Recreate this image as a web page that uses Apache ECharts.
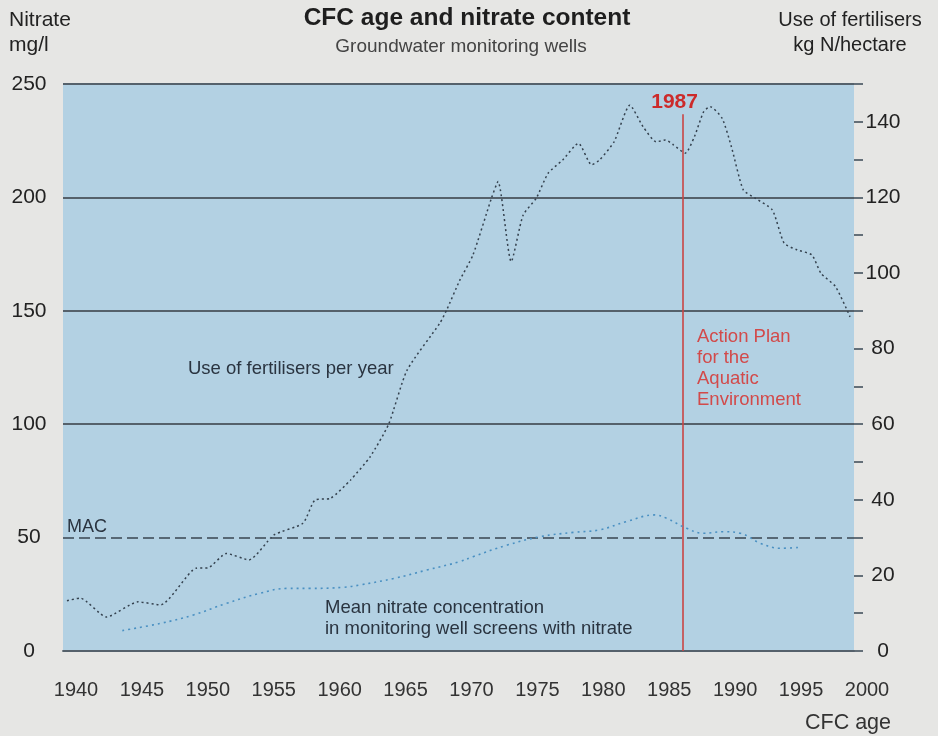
<!DOCTYPE html>
<html><head><meta charset="utf-8">
<script src="https://cdn.jsdelivr.net/npm/echarts@6/dist/echarts.min.js"></script>
<style>html,body{margin:0;padding:0;background:#e6e6e4;}#c{width:938px;height:736px;}</style>
</head><body><div id="c"></div>
<script>
// ---- data ----
const fertYears  = [1940.3,1941.3,1943.3,1945.7,1947.4,1950.1,1951.0,1952.4,1954.1,1956.0,1958.2,1959.1,1960.3,1961.8,1963.3,1964.7,1966.1,1968.6,1969.1,1970.1,1971.1,1972.5,1973.0,1974.0,1974.9,1975.9,1976.8,1977.9,1979.1,1980.1,1980.7,1981.8,1983.0,1984.0,1985.0,1985.7,1986.3,1987.2,1987.9,1988.6,1989.1,1990.0,1990.7,1991.6,1992.5,1993.8,1994.7,1995.7,1996.8,1997.5,1998.6,1999.7];
const fertValues = [13.3,14.0,9.0,13.0,12.2,21.9,22.0,25.8,24.1,30.7,33.8,39.9,40.4,45.2,51.4,60.0,74.3,86.8,90.2,98.1,104.8,119.8,124.2,103.0,115.3,119.8,126.4,129.9,134.3,128.6,129.9,134.7,144.4,138.7,134.7,135.2,133.9,131.7,136.1,142.7,144.0,140.9,133.4,122.0,119.8,116.7,107.9,106.1,104.8,99.9,96.4,88.4];
const nitrateYears  = [1944.5,1947.4,1949.9,1952.4,1954.9,1957.0,1958.7,1961.3,1962.5,1965.1,1967.6,1970.1,1971.1,1973.7,1976.2,1978.7,1980.7,1982.7,1984.9,1985.8,1987.3,1988.6,1990.1,1991.4,1992.9,1994.4,1995.9];
const nitrateValues = [9.0,12.2,15.9,21.0,25.4,27.6,27.6,28.1,29.1,32.0,35.7,39.4,41.6,46.7,50.4,52.3,53.4,57.0,60.0,58.5,54.1,51.9,52.6,51.9,47.5,45.3,45.7];
const gridLevels = [100,150,200,250];   // mg/l solid lines
const macLevel = 50;                     // MAC, mg/l
const actionYear = 1987;
const actionTop = 142;                   // kg N/ha, top of the red line
const yearMin = 1940, yearMax = 2000, yearStep = 5;
const nitrateMax = 250, nitrateStep = 50;
const fertMax = 150, fertStep = 10, fertLabelStep = 20;

const FONT = 'Liberation Sans, Arial, sans-serif';
const G = '#55616b';
const zip = (xs, ys) => xs.map((x, i) => [x, ys[i]]);

const chart = echarts.init(document.getElementById('c'), null, {renderer: 'canvas'});
chart.setOption({
  animation: false,
  backgroundColor: '#e6e6e4',
  textStyle: {fontFamily: FONT},
  grid: {left: 63, right: 84, top: 84, bottom: 85, show: true, backgroundColor: '#b3d1e3', borderWidth: 0},
  xAxis: {
    type: 'value', min: yearMin, max: yearMax, interval: yearStep,
    axisLine: {show: true, lineStyle: {color: G, width: 1.8}},
    axisTick: {show: false}, splitLine: {show: false},
    axisLabel: {fontSize: 20, color: '#333', margin: 29, padding: [0, 0, 0, 26], showMinLabel: true, showMaxLabel: true,
      formatter: v => String(v)}
  },
  yAxis: [
    {type: 'value', min: 0, max: nitrateMax, interval: nitrateStep, position: 'left',
     axisLine: {show: false}, axisTick: {show: false}, splitLine: {show: false},
     axisLabel: {fontSize: 21, color: '#222', align: 'center', margin: 34, padding: [0, 0, 8, 0]}},
    {type: 'value', min: 0, max: fertMax, interval: fertStep, position: 'right',
     axisLine: {show: false}, splitLine: {show: false},
     axisTick: {show: true, inside: false, length: 9, lineStyle: {color: G, width: 1.8}},
     axisLabel: {fontSize: 21, color: '#222', align: 'center', margin: 29, padding: [0, 0, 9, 0],
       formatter: v => (v % fertLabelStep === 0 ? String(v) : '')}}
  ],
  series: [
    {
      name: 'Mean nitrate concentration', type: 'line', yAxisIndex: 0,
      data: zip(nitrateYears, nitrateValues), smooth: 0.4, symbol: 'none', z: 3,
      lineStyle: {color: '#4a90c2', width: 1.6, type: [2, 4]},
      markLine: {
        silent: true, symbol: ['none', 'none'], label: {show: false}, z: 1,
        lineStyle: {color: G, width: 1.8, type: 'solid'},
        data: gridLevels.map(v => ({yAxis: v})).concat([
          {yAxis: macLevel, lineStyle: {color: '#3a4652', width: 1.6, type: [11, 5]}}
        ])
      }
    },
    {
      name: 'Use of fertilisers per year', type: 'line', yAxisIndex: 1,
      data: zip(fertYears, fertValues), smooth: 0.2, symbol: 'none', z: 4,
      lineStyle: {color: '#34414e', width: 1.5, type: [2, 3]},
      markLine: {
        silent: true, symbol: ['none', 'none'], z: 2,
        lineStyle: {color: '#c94545', width: 1.6, type: 'solid'},
        label: {show: true, position: 'end', formatter: String(actionYear), color: '#cc2b2b',
          fontWeight: 'bold', fontSize: 21, distance: 2, padding: [0, 16, 0, 0]},
        data: [[{coord: [actionYear, 0]}, {coord: [actionYear, actionTop]}]]
      }
    }
  ],
  graphic: [
    {type: 'text', x: 467, y: 18, style: {text: 'CFC age and nitrate content', fill: '#1e1e1e', fontFamily: FONT, fontWeight: 'bold', fontSize: 24.5, align: 'center', verticalAlign: 'middle'}},
    {type: 'text', x: 461, y: 47, style: {text: 'Groundwater monitoring wells', fill: '#444', fontFamily: FONT, fontSize: 19, align: 'center', verticalAlign: 'middle'}},
    {type: 'text', x: 9, y: 8, style: {text: 'Nitrate\nmg/l', fill: '#222', fontFamily: FONT, fontSize: 21, lineHeight: 25, align: 'left', verticalAlign: 'top'}},
    {type: 'text', x: 850, y: 8, style: {text: 'Use of fertilisers\nkg N/hectare', fill: '#222', fontFamily: FONT, fontSize: 20, lineHeight: 25, align: 'center', verticalAlign: 'top'}},
    {type: 'text', x: 188, y: 369, style: {text: 'Use of fertilisers per year', fill: '#2a3440', fontFamily: FONT, fontSize: 18.5, align: 'left', verticalAlign: 'middle'}},
    {type: 'text', x: 325, y: 598, style: {text: 'Mean nitrate concentration\nin monitoring well screens with nitrate', fill: '#2a3440', fontFamily: FONT, fontSize: 18.5, lineHeight: 20.5, align: 'left', verticalAlign: 'top'}},
    {type: 'text', x: 697, y: 326.5, style: {text: 'Action Plan\nfor the\nAquatic\nEnvironment', fill: '#d24a4a', fontFamily: FONT, fontSize: 18.5, lineHeight: 21, align: 'left', verticalAlign: 'top'}},
    {type: 'text', x: 67, y: 527, style: {text: 'MAC', fill: '#2a3440', fontFamily: FONT, fontSize: 18, align: 'left', verticalAlign: 'middle'}},
    {type: 'text', x: 891, y: 723, style: {text: 'CFC age', fill: '#333', fontFamily: FONT, fontSize: 21.5, align: 'right', verticalAlign: 'middle'}}
  ]
});
</script></body></html>
